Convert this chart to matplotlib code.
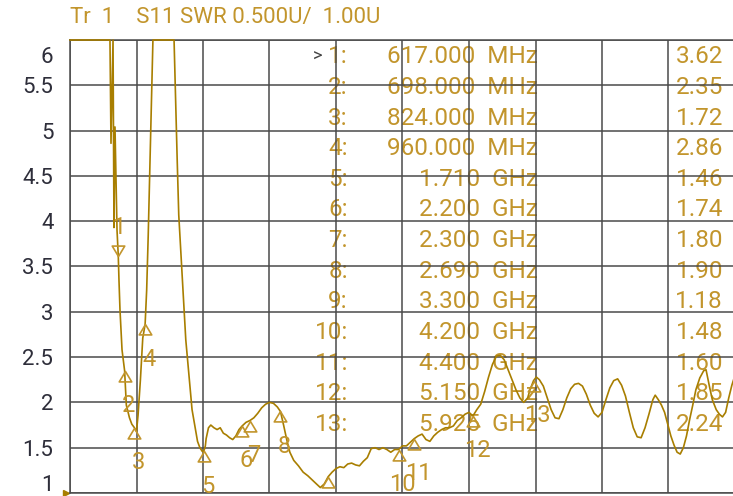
import matplotlib.pyplot as plt
from matplotlib.path import Path
from matplotlib.transforms import ScaledTranslation
import numpy as np

plt.rcParams['font.family'] = ['Roboto', 'DejaVu Sans']

# trace S11 SWR, frecuencia en GHz
freq_ghz = [0.0, 0.511, 0.524, 0.55, 0.562, 0.575, 0.601, 0.617, 0.626, 0.639,
            0.665, 0.698, 0.72, 0.76, 0.79, 0.824, 0.85, 0.87, 0.90, 0.93,
            0.96, 0.98, 1.00, 1.02, 1.04, 1.06, 1.33, 1.35, 1.37, 1.39,
            1.42, 1.45, 1.48, 1.52, 1.56, 1.60, 1.63, 1.66, 1.69, 1.71,
            1.73, 1.74, 1.77, 1.80, 1.84, 1.88, 1.92, 1.96, 2.00, 2.04,
            2.08, 2.12, 2.16, 2.20, 2.25, 2.30, 2.35, 2.40, 2.45, 2.50,
            2.55, 2.60, 2.65, 2.69, 2.73, 2.77, 2.81, 2.86, 2.92, 2.98,
            3.04, 3.10, 3.15, 3.20, 3.25, 3.30, 3.35, 3.40, 3.45, 3.50,
            3.55, 3.60, 3.65, 3.70, 3.75, 3.80, 3.85, 3.90, 3.95, 4.00,
            4.05, 4.10, 4.15, 4.20, 4.25, 4.30, 4.35, 4.40, 4.45, 4.50,
            4.55, 4.60, 4.65, 4.70, 4.75, 4.80, 4.85, 4.90, 4.95, 5.00,
            5.05, 5.10, 5.15, 5.20, 5.25, 5.30, 5.35, 5.40, 5.45, 5.50,
            5.55, 5.60, 5.65, 5.70, 5.75, 5.80, 5.85, 5.88, 5.925, 5.96,
            6.00, 6.05, 6.10, 6.15, 6.20, 6.25, 6.30, 6.35, 6.40, 6.45,
            6.50, 6.55, 6.60, 6.65, 6.70, 6.75, 6.80, 6.85, 6.90, 6.95,
            7.00, 7.05, 7.10, 7.15, 7.20, 7.25, 7.30, 7.35, 7.40, 7.45,
            7.48, 7.52, 7.56, 7.60, 7.64, 7.68, 7.72, 7.76, 7.80, 7.84,
            7.88, 7.92, 7.96, 8.00, 8.05, 8.10, 8.13, 8.17, 8.21, 8.26,
            8.30, 8.34, 8.38, 8.42, 8.46, 8.50]
swr = [7.0, 7.0, 4.86, 7.0, 3.93, 5.04, 3.90, 3.62, 3.35, 3.02,
       2.58, 2.35, 1.97, 1.83, 1.76, 1.72, 1.68, 1.86, 2.25, 2.71,
       2.86, 3.24, 3.85, 4.57, 5.34, 7.0, 7.0, 5.34, 4.68, 4.07,
       3.61, 3.13, 2.69, 2.30, 1.92, 1.72, 1.57, 1.50, 1.46, 1.46,
       1.52, 1.60, 1.72, 1.75, 1.72, 1.70, 1.72, 1.66, 1.64, 1.61,
       1.59, 1.63, 1.70, 1.74, 1.78, 1.80, 1.83, 1.88, 1.94, 1.98,
       2.00, 1.99, 1.95, 1.90, 1.75, 1.59, 1.45, 1.36, 1.30, 1.23,
       1.19, 1.14, 1.10, 1.06, 1.10, 1.18, 1.23, 1.27, 1.29, 1.28,
       1.32, 1.33, 1.31, 1.30, 1.35, 1.39, 1.49, 1.50, 1.48, 1.50,
       1.48, 1.45, 1.48, 1.48, 1.52, 1.52, 1.56, 1.60, 1.63, 1.65,
       1.59, 1.57, 1.63, 1.67, 1.70, 1.72, 1.72, 1.74, 1.80, 1.83,
       1.87, 1.89, 1.85, 1.92, 1.98, 2.12, 2.28, 2.42, 2.51, 2.52,
       2.47, 2.36, 2.25, 2.14, 2.05, 2.00, 2.05, 2.14, 2.24, 2.28,
       2.25, 2.18, 2.05, 1.92, 1.83, 1.82, 1.92, 2.05, 2.15, 2.20,
       2.21, 2.18, 2.09, 1.97, 1.88, 1.84, 1.89, 2.03, 2.16, 2.24,
       2.26, 2.19, 2.07, 1.89, 1.72, 1.62, 1.61, 1.72, 1.87, 2.03,
       2.08, 2.03, 1.97, 1.89, 1.76, 1.63, 1.53, 1.45, 1.43, 1.50,
       1.63, 1.81, 1.97, 2.14, 2.27, 2.35, 2.36, 2.19, 2.03, 1.92,
       1.87, 1.84, 1.89, 2.05, 2.19, 2.30]

# marcadores
mk_freq = [0.617, 0.698, 0.824, 0.960, 1.710, 2.200, 2.300, 2.690, 3.300,
           4.200, 4.400, 5.150, 5.925]
mk_freq_txt = ["617.000  MHz", "698.000  MHz", "824.000  MHz", "960.000  MHz",
               "1.710  GHz", "2.200  GHz", "2.300  GHz", "2.690  GHz",
               "3.300  GHz", "4.200  GHz", "4.400  GHz", "5.150  GHz",
               "5.925  GHz"]
mk_swr = [3.62, 2.35, 1.72, 2.86, 1.46, 1.74, 1.80, 1.90, 1.18, 1.48, 1.60,
          1.85, 2.24]

y_ticks = [1, 1.5, 2, 2.5, 3, 3.5, 4, 4.5, 5, 5.5, 6]
y_labels = ["1", "1.5", "2", "2.5", "3", "3.5", "4", "4.5", "5", "5.5", "6"]

trace_col = "#a87e00"
text_col = "#c2952c"
grid_col = "#4a4a4a"

fig = plt.figure(figsize=(7.33, 4.96), dpi=100)
ax = fig.add_axes([70 / 733, 3 / 496, 665 / 733, 453 / 496])
ax.set_xlim(0, 8.5)
ax.set_ylim(1, 6)

ax.set_xticks(np.linspace(0, 8.5, 11))
ax.set_xticklabels([])
ax.set_yticks(y_ticks)
ax.set_yticklabels(y_labels, fontsize=16, color="#2e2e3a")
ax.tick_params(length=0, pad=12)
ax.grid(True, color=grid_col, lw=1.1)
for s in ax.spines.values():
    s.set_color(grid_col)
    s.set_linewidth(1.1)

# etiquetas de extremos desplazadas hacia dentro
lbls = ax.get_yticklabels()
lbls[0].set_transform(lbls[0].get_transform() + ScaledTranslation(0, 7 / 72, fig.dpi_scale_trans))
lbls[-1].set_transform(lbls[-1].get_transform() + ScaledTranslation(0, -11 / 72, fig.dpi_scale_trans))

ax.plot(freq_ghz, np.minimum(swr, 6.0), color=trace_col, lw=1.2, clip_on=False, zorder=4)

# triangulos de marcador (vertice en el punto)
tri_up = Path([(0, 0), (-0.6, -1), (0.6, -1), (0, 0)], [1, 2, 2, 79])
tri_dn = Path([(0, 0), (-0.6, 1), (0.6, 1), (0, 0)], [1, 2, 2, 79])
for i, (f, v) in enumerate(zip(mk_freq, mk_swr)):
    mk = tri_dn if i == 0 else tri_up
    ax.plot([f], [v], marker=mk, ms=15, mfc="none", mec=text_col, mew=1.2, zorder=5)
    off = (0, 20) if i == 0 else (3, -25)
    ax.annotate(str(i + 1), (f, v), xytext=off, textcoords="offset points",
                ha="center", va="center", fontsize=17, color=text_col, zorder=5)

# tabla de marcadores
def fx(px):
    return (px - 70) / 665


def fy(py):
    return (493 - py) / 453


for i in range(len(mk_freq)):
    yy = fy(57 + i * 30.6)
    kw = dict(transform=ax.transAxes, va="center", fontsize=17.5, color=text_col, zorder=1)
    ax.text(fx(348), yy, f"{i + 1}:", ha="right", **kw)
    ax.text(fx(538), yy, mk_freq_txt[i], ha="right", **kw)
    ax.text(fx(723), yy, f"{mk_swr[i]:.2f}", ha="right", **kw)
ax.text(fx(318), fy(57), ">", transform=ax.transAxes, ha="center", va="center",
        fontsize=13, color="#444444", zorder=1)

fig.text(70 / 733, 1 - 18 / 496, "Tr  1    S11 SWR 0.500U/  1.00U", ha="left", va="center",
         fontsize=16, color=text_col)

# indicador de referencia
ax.plot([-0.006], [0.0], marker=">", ms=5, color=trace_col, transform=ax.transAxes, clip_on=False)

fig.savefig("out.png", dpi=100)
